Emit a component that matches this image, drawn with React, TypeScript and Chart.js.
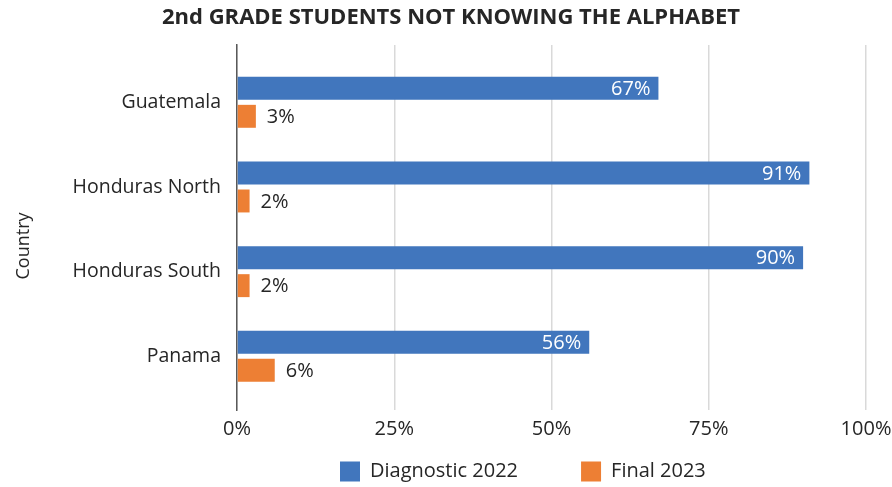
import React, { useEffect, useRef } from 'react';
import { Chart, registerables } from 'chart.js';

Chart.register(...registerables);

const categories = ['Guatemala', 'Honduras North', 'Honduras South', 'Panama'];
const diagnostic2022 = [67, 91, 90, 56];
const final2023 = [3, 2, 2, 6];
const xTickValues = [0, 25, 50, 75, 100];
const seriesNames = ['Diagnostic 2022', 'Final 2023'];

const FONT = '"Open Sans", "Noto Sans", sans-serif';
const TEXT = '#262626';
const BLUE = '#4176BD';
const ORANGE = '#ED7F34';

const LEGEND_PAD = 63;

const valueLabels = {
  id: 'valueLabels',
  afterDatasetsDraw(chart: any) {
    const ctx = chart.ctx;
    ctx.save();
    ctx.font = `20px ${FONT}`;
    ctx.textBaseline = 'middle';
    chart.data.datasets.forEach((ds: any, di: number) => {
      const meta = chart.getDatasetMeta(di);
      meta.data.forEach((bar: any, i: number) => {
        const v = ds.data[i].x;
        const text = `${Math.round(v)}%`;
        if (di === 0) {
          ctx.fillStyle = '#ffffff';
          ctx.textAlign = 'right';
          ctx.fillText(text, bar.x - 8, bar.y + 1);
        } else {
          ctx.fillStyle = TEXT;
          ctx.textAlign = 'left';
          ctx.fillText(text, bar.x + 11, bar.y + 1);
        }
      });
    });
    ctx.restore();
  },
};

const axisTitle = {
  id: 'axisTitle',
  afterDraw(chart: any) {
    const ctx = chart.ctx;
    ctx.save();
    ctx.font = `18px ${FONT}`;
    ctx.fillStyle = TEXT;
    ctx.textAlign = 'center';
    ctx.textBaseline = 'middle';
    ctx.translate(24, 246);
    ctx.rotate(-Math.PI / 2);
    ctx.fillText('Country', 0, 0);
    ctx.restore();
  },
};

const legendPlacement = {
  id: 'legendPlacement',
  beforeLayout(chart: any) {
    const lg = chart.legend;
    if (lg && !lg.__patched) {
      const orig = lg.fit;
      lg.fit = function () {
        orig.call(this);
        this.height = 43;
      };
      lg.__patched = true;
    }
  },
  afterLayout(chart: any) {
    const lg = chart.legend;
    if (lg) {
      lg.top = 461.5 - LEGEND_PAD;
      lg.bottom = chart.height;
      lg.height = lg.bottom - lg.top;
      lg.left = 340 - LEGEND_PAD;
      lg.right = chart.width;
      lg.width = lg.right - lg.left;
    }
    const tb = chart.titleBlock;
    if (tb) {
      tb.left = 10;
      tb.right = chart.width;
      tb.width = tb.right - tb.left;
    }
  },
};

export default function App() {
  const ref = useRef<HTMLCanvasElement>(null);
  useEffect(() => {
    document.body.style.margin = '0';
    if (!ref.current) return;
    const chart = new Chart(ref.current, {
      type: 'bar',
      data: {
        datasets: [
          {
            label: seriesNames[0],
            data: categories.map((_, i) => ({ x: diagnostic2022[i], y: i })),
            backgroundColor: BLUE,
            categoryPercentage: 0.661,
            barPercentage: 0.82,
          },
          {
            label: seriesNames[1],
            data: categories.map((_, i) => ({ x: final2023[i], y: i })),
            backgroundColor: ORANGE,
            categoryPercentage: 0.661,
            barPercentage: 0.82,
          },
        ],
      },
      options: {
        indexAxis: 'y',
        responsive: false,
        animation: false,
        layout: { padding: 0 },
        scales: {
          y: {
            type: 'linear',
            reverse: true,
            offset: false,
            min: -0.677,
            max: 3.634,
            afterBuildTicks(scale: any) {
              scale.ticks = categories.map((_, i) => ({ value: i }));
            },
            afterFit(scale: any) {
              scale.width = 237;
            },
            ticks: {
              padding: 16,
              color: TEXT,
              font: { family: FONT, size: 19.5 },
              callback: (v: any) => categories[v as number] ?? '',
            },
            grid: { display: false, drawTicks: false, offset: false },
            border: { display: true, color: '#595959', width: 1.5 },
          },
          x: {
            type: 'linear',
            min: 0,
            max: 100,
            afterBuildTicks(scale: any) {
              scale.ticks = xTickValues.map((v) => ({ value: v }));
            },
            afterFit(scale: any) {
              scale.height = 34;
              scale.paddingRight = 26;
            },
            ticks: {
              padding: 7,
              color: TEXT,
              font: { family: FONT, size: 20 },
              callback: (v: any) => `${v}%`,
            },
            grid: { color: '#d9d9d9', lineWidth: 1.5, drawTicks: false },
            border: { display: false },
          },
        },
        plugins: {
          title: {
            display: true,
            text: '2nd GRADE STUDENTS NOT KNOWING THE ALPHABET',
            color: TEXT,
            font: { family: FONT, size: 22, weight: 'bold' },
            padding: { top: 5, bottom: 13.6 },
          },
          legend: {
            position: 'bottom',
            align: 'start',
            labels: {
              boxWidth: 20,
              boxHeight: 20,
              padding: LEGEND_PAD,
              color: TEXT,
              font: { family: FONT, size: 20 },
            },
          },
          tooltip: { enabled: false },
        },
      },
      plugins: [valueLabels, axisTitle, legendPlacement],
    } as any);
    return () => chart.destroy();
  }, []);
  return (
    <div style={{ width: 892, height: 487 }}>
      <canvas ref={ref} width={892} height={487} />
    </div>
  );
}
